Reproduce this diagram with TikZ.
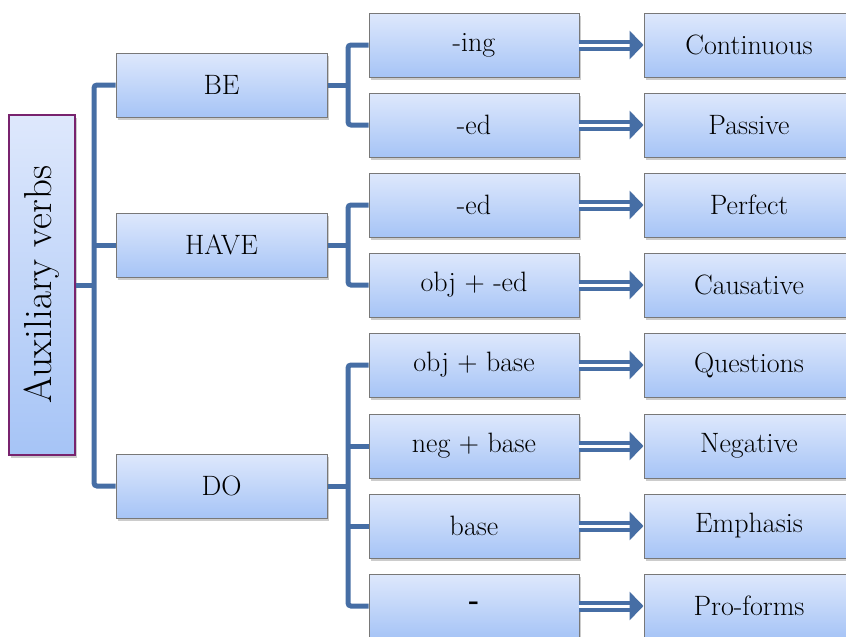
\documentclass[tikz,border=0pt]{standalone}
\usetikzlibrary{arrows.meta,shadows,calc}
\definecolor{conncol}{RGB}{70,110,165}
\definecolor{boxtop}{RGB}{222,232,252}
\definecolor{boxbot}{RGB}{166,196,246}
\definecolor{boxline}{RGB}{120,120,120}
\definecolor{rootline}{RGB}{120,35,110}
\tikzset{
  box/.style={draw=boxline, line width=1pt, top color=boxtop, bottom color=boxbot,
    minimum width=211pt, minimum height=64pt, inner sep=0pt, anchor=center,
    font=\fontsize{28}{32}\selectfont,
    drop shadow={shadow xshift=2pt, shadow yshift=-3pt, opacity=0.4}},
  rootbox/.style={box, draw=rootline, line width=1.6pt, minimum width=66pt, minimum height=340pt},
  endbox/.style={box, minimum width=210pt},
  conn/.style={draw=conncol, line width=5pt, rounded corners=3pt},
  arr/.style={draw=conncol, line width=4pt, double=white, double distance=3pt,
    -{Triangle[length=14pt,width=28pt]}, shorten <=-1pt}
}
\begin{document}
\begin{tikzpicture}[x=1pt,y=-1pt]
\useasboundingbox (0,0) rectangle (846,637);
\clip (0,0) rectangle (846,637);
\coordinate (t) at (94,0);
\coordinate (u) at (348,0);
% root
\node[rootbox] (root) at (42,285) {};
\node[rotate=90, font=\fontsize{39}{44}\selectfont] (roottxt) at (root.center) {Auxiliary verbs};
% level 1
\node[box] (be) at (221.5,85) {BE};
\node[box] (have) at (221.5,245) {HAVE};
\node[box] (do) at (221.5,486) {DO};
% level 2
\node[box, minimum width=210pt] (ing) at (474,45) {-ing};
\node[box, minimum width=210pt] (ed1) at (474,125) {-ed};
\node[box, minimum width=210pt] (ed2) at (474,205) {-ed};
\node[box, minimum width=210pt] (objed) at (474,285) {obj + -ed};
\node[box, minimum width=210pt] (objbase) at (474,365) {obj + base};
\node[box, minimum width=210pt] (negbase) at (474,446) {neg + base};
\node[box, minimum width=210pt] (base) at (474,526) {base};
\node[box, minimum width=210pt] (dash) at (474,606) {\textbf{-}};
% level 3
\node[endbox] (cont) at (749,45) {Continuous};
\node[endbox] (pass) at (749,125) {Passive};
\node[endbox] (perf) at (749,205) {Perfect};
\node[endbox] (caus) at (749,285) {Causative};
\node[endbox] (ques) at (749,365) {Questions};
\node[endbox] (neg) at (749,446) {Negative};
\node[endbox] (emph) at (749,526) {Emphasis};
\node[endbox] (pro) at (749,606) {Pro-forms};
% trunk connectors
\draw[conn] (be.west) -- (be.west -| t) -- (do.west -| t) -- (do.west);
\draw[conn] (have.west) -- (have.west -| t);
\draw[conn] (root.east) -- (root.east -| t);
% BE branch
\draw[conn] (ing.west) -- (ing.west -| u) -- (ed1.west -| u) -- (ed1.west);
\draw[conn] (be.east) -- (be.east -| u);
% HAVE branch
\draw[conn] (ed2.west) -- (ed2.west -| u) -- (objed.west -| u) -- (objed.west);
\draw[conn] (have.east) -- (have.east -| u);
% DO branch
\draw[conn] (objbase.west) -- (objbase.west -| u) -- (dash.west -| u) -- (dash.west);
\draw[conn] (negbase.west) -- (negbase.west -| u);
\draw[conn] (base.west) -- (base.west -| u);
\draw[conn] (do.east) -- (do.east -| u);
% arrows
\draw[arr] (ing.east) -- (cont.west);
\draw[arr] (ed1.east) -- (pass.west);
\draw[arr] (ed2.east) -- (perf.west);
\draw[arr] (objed.east) -- (caus.west);
\draw[arr] (objbase.east) -- (ques.west);
\draw[arr] (negbase.east) -- (neg.west);
\draw[arr] (base.east) -- (emph.west);
\draw[arr] (dash.east) -- (pro.west);
\end{tikzpicture}
\end{document}
